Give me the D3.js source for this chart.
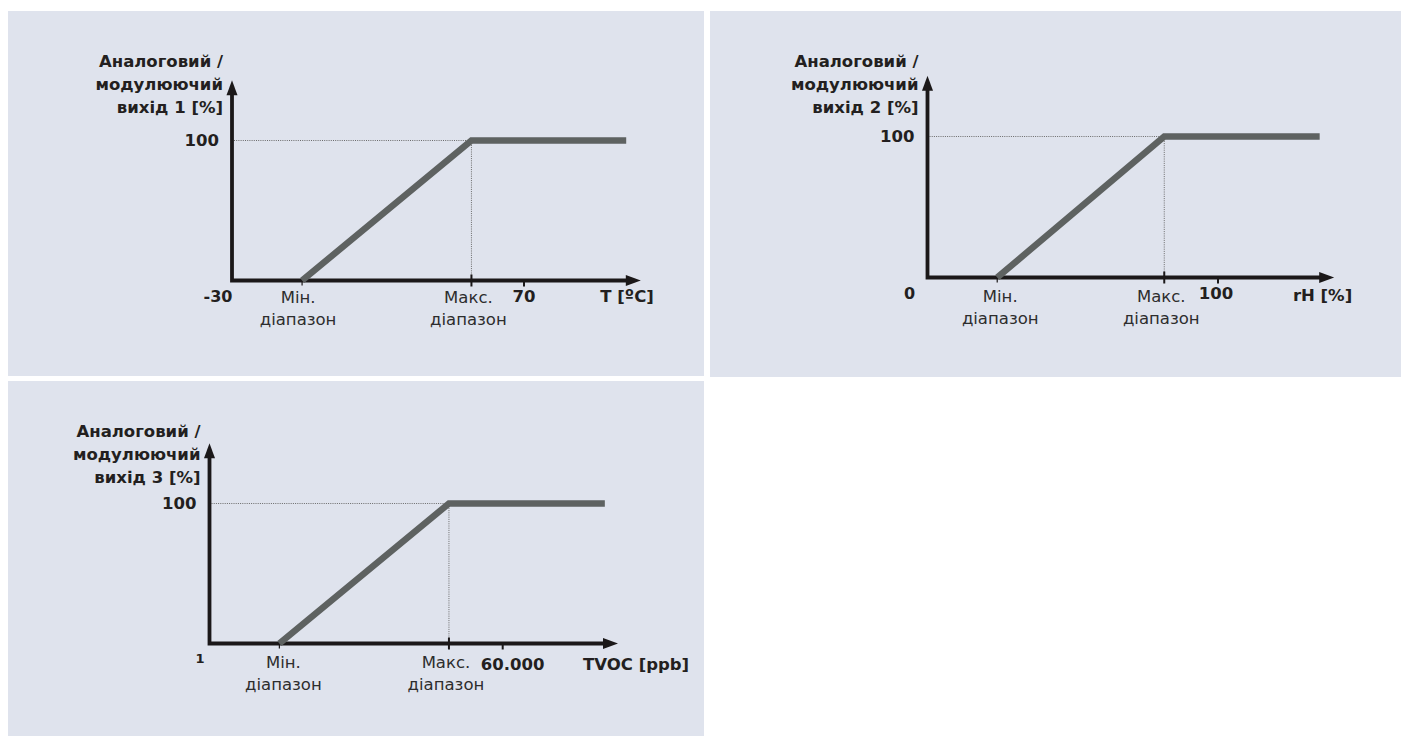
<!DOCTYPE html>
<html>
<head>
<meta charset="utf-8">
<script src="https://cdn.jsdelivr.net/npm/d3@7"></script>
<style>
  html, body { margin: 0; padding: 0; background: #ffffff; }
  svg { display: block; }
  .bold { font-family: "DejaVu Sans", sans-serif; font-weight: bold; fill: #231f20; }
  .reg { font-family: "DejaVu Sans", sans-serif; fill: #2d2d2d; }
</style>
</head>
<body>
<svg id="chart" width="1405" height="736"></svg>
<script>
// ---- data ----
const outputNumbers = ["1", "2", "3"];
const xUnitLabels = ["T [ºC]", "rH [%]", "TVOC [ppb]"];
const xStartValues = [-30, 0, 1];
const xStartLabels = ["-30", "0", "1"];
const xEndValues = [70, 100, 60000];
const xEndLabels = ["70", "100", "60.000"];
const rangeMinValues = [-6, 24, 14300];
const rangeMaxValues = [52, 81.5, 49000];
const plateauEndValues = [105, 135, 80900];
const axisEndValues = [110, 140, 83600];
const yTickValue = 100;
const yTickLabel = "100";
const yArrowValue = 143;
const minLabelLines = ["Мін.", "діапазон"];
const maxLabelLines = ["Макс.", "діапазон"];
const yTitleLines = n => ["Аналоговий /", "модулюючий", "вихід " + n + " [%]"];

// ---- layout (pixel geometry only) ----
const panels = [
  { rx: 8, ry: 11, rw: 696, rh: 365, ox: 232, oy: 280.5, xEndPx: 524, y100: 140.5, titleBase: 67, startDx: -14, startSize: 16, endDy: 21.5, unitDx: 13, unitDy: 21.5, minDx: -4, maxDx: -3, endDx: 0, lblDy: 22 },
  { rx: 710, ry: 11, rw: 691, rh: 366, ox: 927.5, oy: 277.5, xEndPx: 1218, y100: 136.5, titleBase: 67, startDx: -18, startSize: 16, endDy: 21.5, unitDx: 18, unitDy: 23, minDx: 3, maxDx: -3, endDx: -2, lblDy: 24 },
  { rx: 8, ry: 381, rw: 696, rh: 355, ox: 209.5, oy: 643.5, xEndPx: 502.7, y100: 503.5, titleBase: 437, startDx: -9.5, startSize: 13, endDy: 26, unitDx: 15, unitDy: 26, minDx: 4, maxDx: -3, endDx: 10, lblDy: 24, unitAnchorStart: true }
];

const svg = d3.select("#chart");
const axisColor = "#1b1819";
const lineColor = "#5e6261";
const boldSize = 16.5;
const regSize = 16.5;

panels.forEach((p, i) => {
  const g = svg.append("g");
  g.append("rect").attr("x", p.rx).attr("y", p.ry).attr("width", p.rw).attr("height", p.rh).attr("fill", "#dfe3ed");

  const x = d3.scaleLinear().domain([xStartValues[i], xEndValues[i]]).range([p.ox, p.xEndPx]);
  const y = d3.scaleLinear().domain([0, yTickValue]).range([p.oy, p.y100]);

  const xTip = x(axisEndValues[i]);
  const yTip = y(yArrowValue);
  const ah = 15, aw = 5.5;

  // dotted guides
  g.append("line").attr("x1", p.ox + 2).attr("x2", x(rangeMaxValues[i])).attr("y1", y(yTickValue)).attr("y2", y(yTickValue))
    .attr("stroke", "#6a6a6a").attr("stroke-width", 1).attr("stroke-dasharray", "1,1.2");
  g.append("line").attr("x1", x(rangeMaxValues[i])).attr("x2", x(rangeMaxValues[i])).attr("y1", y(yTickValue)).attr("y2", p.oy)
    .attr("stroke", "#6a6a6a").attr("stroke-width", 1).attr("stroke-dasharray", "1,1.2");

  // axes
  g.append("path")
    .attr("d", `M${p.ox},${yTip + ah - 1} L${p.ox},${p.oy} L${xTip - ah + 1},${p.oy}`)
    .attr("fill", "none").attr("stroke", axisColor).attr("stroke-width", 3.8).attr("stroke-linejoin", "miter");
  g.append("path").attr("d", `M${p.ox},${yTip} L${p.ox - aw},${yTip + ah} L${p.ox + aw},${yTip + ah} Z`).attr("fill", axisColor);
  g.append("path").attr("d", `M${xTip},${p.oy} L${xTip - ah},${p.oy - aw} L${xTip - ah},${p.oy + aw} Z`).attr("fill", axisColor);

  // ticks
  g.append("line").attr("x1", x(rangeMinValues[i])).attr("x2", x(rangeMinValues[i])).attr("y1", p.oy).attr("y2", p.oy + 5)
    .attr("stroke", axisColor).attr("stroke-width", 1.2);
  g.append("line").attr("x1", x(rangeMaxValues[i])).attr("x2", x(rangeMaxValues[i])).attr("y1", p.oy - 6).attr("y2", p.oy + 6)
    .attr("stroke", axisColor).attr("stroke-width", 2);
  g.append("line").attr("x1", x(xEndValues[i])).attr("x2", x(xEndValues[i])).attr("y1", p.oy).attr("y2", p.oy + 6)
    .attr("stroke", axisColor).attr("stroke-width", 2);

  // characteristic line
  const pts = [[rangeMinValues[i], 0], [rangeMaxValues[i], yTickValue], [plateauEndValues[i], yTickValue]];
  g.append("path").attr("d", d3.line().x(d => x(d[0])).y(d => y(d[1]))(pts))
    .attr("fill", "none").attr("stroke", lineColor).attr("stroke-width", 6.5).attr("stroke-linejoin", "miter");

  // y title
  const tl = yTitleLines(outputNumbers[i]);
  tl.forEach((t, k) => {
    g.append("text").attr("class", "bold").attr("x", p.ox - 9).attr("y", p.titleBase + k * 23)
      .attr("text-anchor", "end").attr("font-size", boldSize).text(t);
  });
  // 100 label
  g.append("text").attr("class", "bold").attr("x", p.ox - 13).attr("y", y(yTickValue) + 5)
    .attr("text-anchor", "end").attr("font-size", boldSize).text(yTickLabel);

  // x labels
  g.append("text").attr("class", "bold").attr("x", p.ox + p.startDx).attr("y", p.oy + (i === 2 ? 19 : 21.5))
    .attr("text-anchor", "middle").attr("font-size", p.startSize).text(xStartLabels[i]);
  g.append("text").attr("class", "bold").attr("x", x(xEndValues[i]) + p.endDx).attr("y", p.oy + p.endDy)
    .attr("text-anchor", "middle").attr("font-size", boldSize).text(xEndLabels[i]);
  if (p.unitAnchorStart) {
    g.append("text").attr("class", "bold").attr("x", xTip - 35).attr("y", p.oy + p.unitDy)
      .attr("text-anchor", "start").attr("font-size", boldSize).text(xUnitLabels[i]);
  } else {
    g.append("text").attr("class", "bold").attr("x", xTip + p.unitDx).attr("y", p.oy + p.unitDy)
      .attr("text-anchor", "end").attr("font-size", boldSize).text(xUnitLabels[i]);
  }
  minLabelLines.forEach((t, k) => {
    g.append("text").attr("class", "reg").attr("x", x(rangeMinValues[i]) + p.minDx).attr("y", p.oy + p.lblDy + k * 22.5)
      .attr("text-anchor", "middle").attr("font-size", regSize).text(t);
  });
  maxLabelLines.forEach((t, k) => {
    g.append("text").attr("class", "reg").attr("x", x(rangeMaxValues[i]) + p.maxDx).attr("y", p.oy + p.lblDy + k * 22.5)
      .attr("text-anchor", "middle").attr("font-size", regSize).text(t);
  });
});
</script>
</body>
</html>
